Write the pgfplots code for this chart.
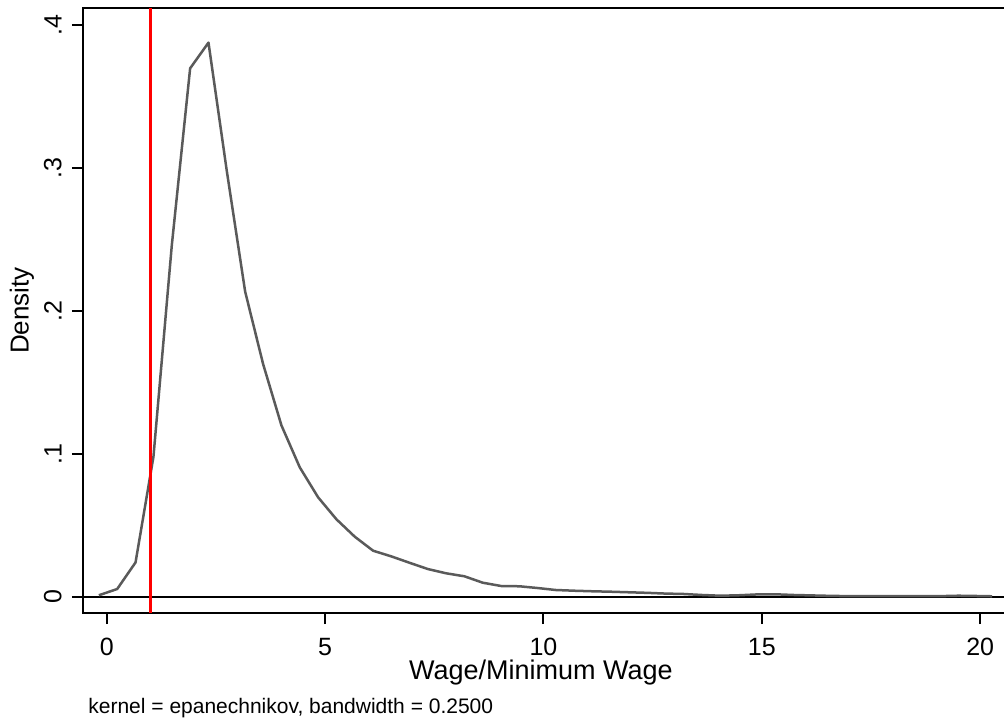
\documentclass[border=0pt]{standalone}
\usepackage{fontspec}
\setmainfont{Liberation Sans}
\usepackage{pgfplots}
\pgfplotsset{compat=1.18}
\definecolor{curvegray}{RGB}{90,90,90}
\begin{document}
\begin{tikzpicture}
\useasboundingbox (0,0) rectangle (502pt,361.5pt);
\begin{axis}[
  at={(41.5pt,55pt)}, anchor=south west,
  scale only axis, width=461.5pt, height=302.5pt,
  xmin=-0.543, xmax=20.59, ymin=-0.01141, ymax=0.41225,
  axis line style={black, line width=1pt},
  tick align=outside, xtick pos=bottom, ytick pos=left,
  major tick length=5.5pt,
  tick style={black, line width=1pt},
  xtick={0,5,10,15,20}, xticklabels={0,5,10,15,20},
  ytick={0,0.1,0.2,0.3,0.4}, yticklabels={0,.1,.2,.3,.4},
  xticklabel style={font=\fontsize{12.5pt}{14pt}\selectfont, inner sep=0pt, anchor=north, yshift=-7pt},
  yticklabel style={font=\fontsize{12.5pt}{14pt}\selectfont, inner sep=0pt, xshift=-5pt, rotate=90, anchor=south},
  xlabel={Wage/Minimum Wage},
  xlabel style={font=\fontsize{13.5pt}{15pt}\selectfont, at={(axis description cs:0.496,-0.1107)}, anchor=base},
  ylabel={Density},
  ylabel style={font=\fontsize{13pt}{15pt}\selectfont, at={(axis description cs:-0.0661,0.5)}, anchor=center},
  clip=true,
]
\addplot[black, line width=1.2pt, forget plot] coordinates {(-0.543,0) (20.59,0)};
\addplot[curvegray, line width=1.25pt, line join=round] coordinates {
(-0.18,0.0010) (0.24,0.0054) (0.66,0.024) (1.07,0.098) (1.49,0.246)
(1.91,0.370) (2.33,0.388) (2.75,0.298) (3.17,0.2136) (3.58,0.163)
(4.00,0.120) (4.42,0.0906) (4.84,0.0696) (5.26,0.0542) (5.68,0.042)
(6.10,0.0322) (6.51,0.0283) (6.93,0.0238) (7.35,0.0194) (7.77,0.0164)
(8.19,0.0143) (8.61,0.0098) (9.03,0.0075) (9.45,0.0073) (9.86,0.0061)
(10.28,0.0047) (10.70,0.0042) (11.12,0.0038) (11.54,0.0035) (11.96,0.0031)
(12.38,0.0027) (12.79,0.0022) (13.21,0.0019) (13.63,0.0012) (14.05,0.0007)
(14.47,0.0010) (14.89,0.0016) (15.31,0.0017) (15.73,0.0012) (16.15,0.0009)
(16.56,0.0006) (16.98,0.0004) (17.40,0.0004) (17.82,0.0004) (18.24,0.0004)
(18.66,0.0004) (19.08,0.0004) (19.50,0.0007) (19.92,0.0005) (20.27,0.0003)
};
\addplot[red, line width=1.2pt, forget plot] coordinates {(1,-0.01141) (1,0.41225)};
\end{axis}
\node[anchor=base west, inner sep=0pt, font=\fontsize{10.5pt}{12pt}\selectfont] at (44pt,5pt) {kernel = epanechnikov, bandwidth = 0.2500};
\end{tikzpicture}
\end{document}
